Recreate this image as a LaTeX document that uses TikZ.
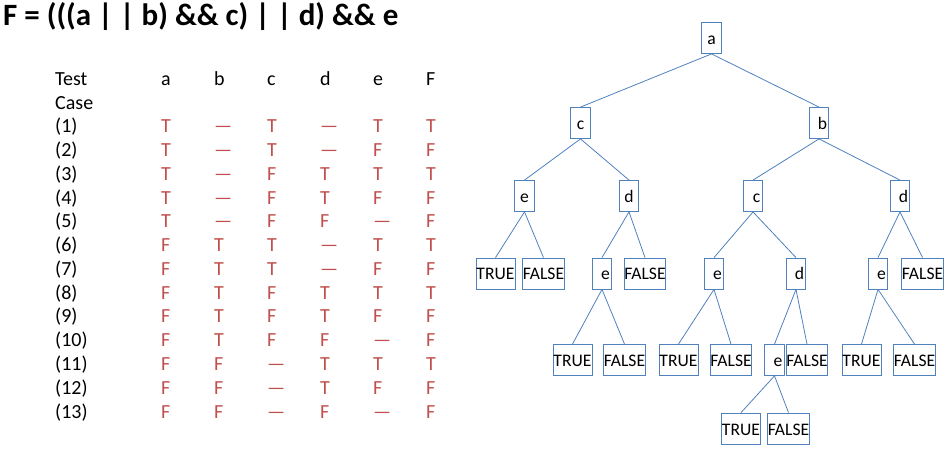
\documentclass[tikz,border=0pt]{standalone}
\usepackage{fontspec}
\setmainfont{Carlito}
\definecolor{boxblue}{RGB}{79,129,189}
\definecolor{tfred}{RGB}{192,80,77}
\newcommand\rsh[1]{\hspace*{7pt}#1}
\begin{document}
\begin{tikzpicture}[x=1pt,y=1pt,
  tbox/.style={draw=boxblue,line width=0.8pt,inner sep=0pt,minimum height=31pt,
    text height=14pt,text depth=1pt,font=\fontsize{17.6}{19}\selectfont},
  vbox/.style={tbox,minimum width=19.5pt},
  tt/.style={tbox,minimum width=39pt},
  ff/.style={tbox,minimum width=41.5pt},
  link/.style={draw=boxblue,line width=0.8pt},
  hd/.style={anchor=base west,inner sep=0pt,font=\fontsize{20}{24}\selectfont},
  cell/.style={hd,text=tfred}]
\useasboundingbox (0,0) rectangle (946,-449);

% title
\node[anchor=base west,inner sep=0pt,font=\fontsize{31}{36}\selectfont\bfseries] (title) at (3,-25.5)
  {F = (((a | | b) \&\& c) | | d) \&\& e};

% table header
\node[hd] (test) at (55,-86) {Test};
\node[hd] (case) at (55,-110) {Case};
\foreach \h [count=\j] in {a,b,c,d,e,F}
  \node[hd] (head-\j) at ({161+53*(\j-1)},-86) {\h};

% table body
\foreach \r [count=\i] in {
  {T,—,T,—,T,T},
  {T,—,T,—,F,F},
  {T,—,F,T,T,T},
  {T,—,F,T,F,F},
  {T,—,F,F,—,F},
  {F,T,T,—,T,T},
  {F,T,T,—,F,F},
  {F,T,F,T,T,T},
  {F,T,F,T,F,F},
  {F,T,F,F,—,F},
  {F,F,—,T,T,T},
  {F,F,—,T,F,F},
  {F,F,—,F,—,F}} {
  \node[hd] (case-\i) at (55,{-(133+23.75*(\i-1))}) {(\i)};
  \foreach \v [count=\j] in \r
    \node[cell] (cell-\i-\j) at ({161+53*(\j-1)},{-(133+23.75*(\i-1))}) {\v};
}

% tree
\node[vbox] (a) at (711.5,-38) {a};
\node[vbox] (c1) at (580.5,-123) {c};
\node[vbox] (b1) at (819,-123) {\rsh{b}};
\node[vbox] (e2) at (524.5,-196) {e};
\node[vbox] (d2) at (629,-196) {d};
\node[vbox] (c2) at (753,-196) {\rsh{c}};
\node[vbox] (d2r) at (900,-196) {\rsh{d}};

\node[tt] (t3a) at (495.5,-273.5) {TRUE};
\node[ff] (f3a) at (543.5,-273.5) {FALSE};
\node[vbox] (e3a) at (602,-273.5) {\rsh{e}};
\node[ff] (f3b) at (645,-273.5) {FALSE};
\node[vbox] (e3b) at (714,-273.5) {\rsh{e}};
\node[vbox] (d3) at (796,-273.5) {\rsh{d}};
\node[vbox] (e3c) at (878,-273.5) {\rsh{e}};
\node[ff] (f3c) at (922.5,-273.5) {FALSE};

\node[tt] (t4a) at (572.5,-360) {TRUE};
\node[ff] (f4a) at (624.5,-360) {FALSE};
\node[tt] (t4b) at (678.5,-360) {TRUE};
\node[ff] (f4b) at (731,-360) {FALSE};
\node[vbox] (e4) at (774.5,-360) {\rsh{e}};
\node[ff] (f4c) at (807,-360) {FALSE};
\node[tt] (t4c) at (861.5,-360) {TRUE};
\node[ff] (f4d) at (914.5,-360) {FALSE};

\node[tt] (t5) at (741,-428.5) {TRUE};
\node[ff] (f5) at (788.5,-428.5) {FALSE};

\foreach \p/\c in {a/c1,a/b1,c1/e2,c1/d2,b1/c2,b1/d2r,e2/t3a,e2/f3a,d2/e3a,d2/f3b,
  c2/e3b,c2/d3,d2r/e3c,d2r/f3c,e3a/t4a,e3a/f4a,e3b/t4b,e3b/f4b,d3/e4,d3/f4c,
  e3c/t4c,e3c/f4d,e4/t5,e4/f5}
  \draw[link] (\p.south) -- (\c.north);
\end{tikzpicture}
\end{document}
